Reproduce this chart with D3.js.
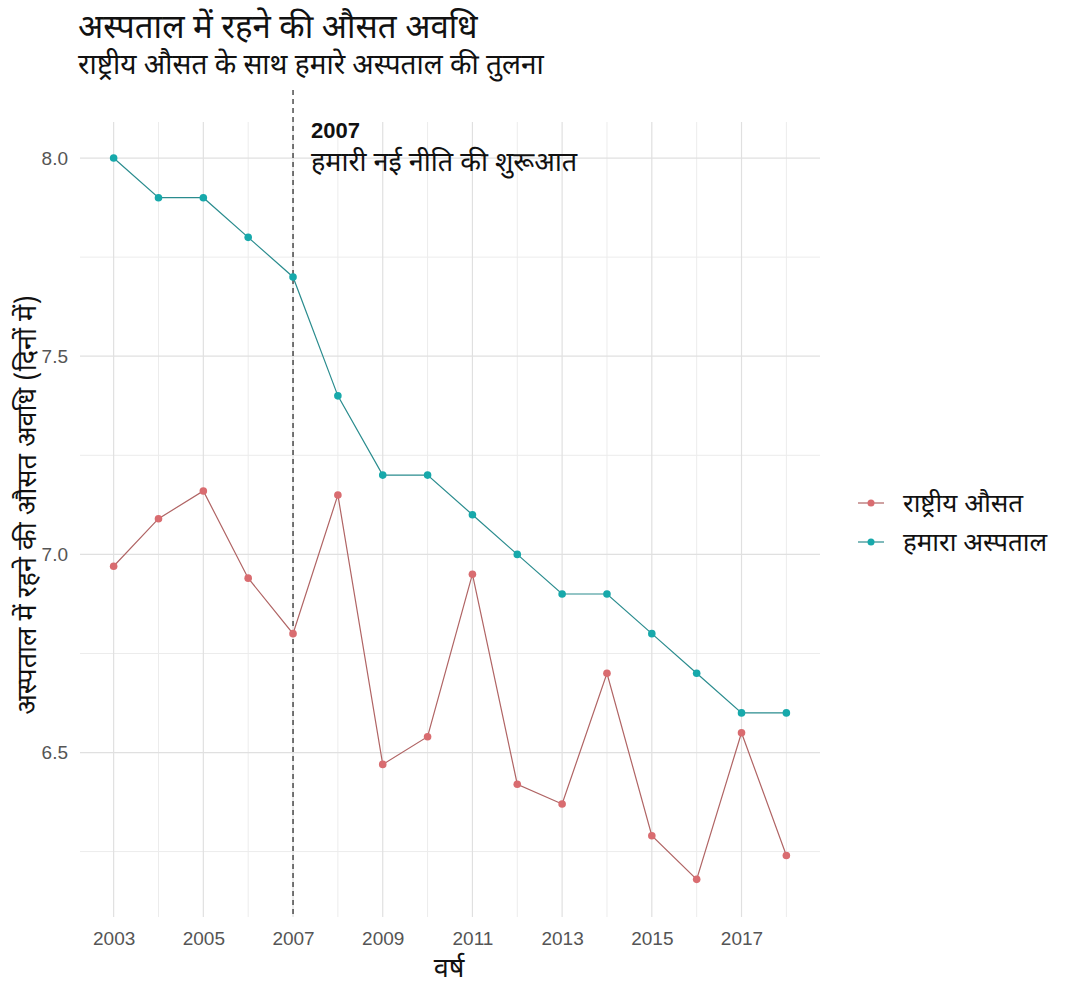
<!DOCTYPE html>
<html>
<head>
<meta charset="utf-8">
<script src="https://cdn.jsdelivr.net/npm/d3@7"></script>
<style>
  body { margin: 0; background: #fff; }
  text { font-family: "Noto Sans Devanagari", "Noto Sans", "DejaVu Sans", sans-serif; }
</style>
</head>
<body>
<div id="chart"></div>
<script>
// years on the x axis
const years = [2003, 2004, 2005, 2006, 2007, 2008, 2009, 2010, 2011, 2012, 2013, 2014, 2015, 2016, 2017, 2018];
// national average (red) and our hospital (teal)
const national = [6.97, 7.09, 7.16, 6.94, 6.80, 7.15, 6.47, 6.54, 6.95, 6.42, 6.37, 6.70, 6.29, 6.18, 6.55, 6.24];
const hospital = [8.0, 7.9, 7.9, 7.8, 7.7, 7.4, 7.2, 7.2, 7.1, 7.0, 6.9, 6.9, 6.8, 6.7, 6.6, 6.6];
const seriesNames = ["राष्ट्रीय औसत", "हमारा अस्पताल"];
const yTicks = [6.5, 7.0, 7.5, 8.0];
const xTicks = [2003, 2005, 2007, 2009, 2011, 2013, 2015, 2017];
const policyYear = 2007;

const W = 1077, H = 992;
const panel = {left: 80, right: 820, top: 122, bottom: 917};

const svg = d3.select("#chart").append("svg")
  .attr("width", W).attr("height", H);

const x = d3.scaleLinear()
  .domain([2002.25, 2018.75])
  .range([panel.left, panel.right]);

const y = d3.scaleLinear()
  .domain([6.085, 8.091])
  .range([panel.bottom, panel.top]);

// grid: minor first, lighter
const minorY = [6.25, 6.75, 7.25, 7.75];
svg.append("g").selectAll("line")
  .data(minorY).enter().append("line")
  .attr("x1", panel.left).attr("x2", panel.right)
  .attr("y1", d => y(d)).attr("y2", d => y(d))
  .attr("stroke", "#ececec").attr("stroke-width", 1);

svg.append("g").selectAll("line")
  .data(years.filter(d => xTicks.indexOf(d) < 0)).enter().append("line")
  .attr("x1", d => x(d)).attr("x2", d => x(d))
  .attr("y1", panel.top).attr("y2", panel.bottom)
  .attr("stroke", "#ececec").attr("stroke-width", 1);

svg.append("g").selectAll("line")
  .data(yTicks).enter().append("line")
  .attr("x1", panel.left).attr("x2", panel.right)
  .attr("y1", d => y(d)).attr("y2", d => y(d))
  .attr("stroke", "#e0e0e0").attr("stroke-width", 1.2);

svg.append("g").selectAll("line")
  .data(xTicks).enter().append("line")
  .attr("x1", d => x(d)).attr("x2", d => x(d))
  .attr("y1", panel.top).attr("y2", panel.bottom)
  .attr("stroke", "#e0e0e0").attr("stroke-width", 1.2);

// axes (text only, ggplot minimal style)
const yAxis = svg.append("g")
  .attr("transform", "translate(" + panel.left + ",0)")
  .call(d3.axisLeft(y).tickValues(yTicks).tickFormat(d3.format(".1f")).tickSize(0).tickPadding(12));
yAxis.select(".domain").remove();
yAxis.selectAll("text").attr("fill", "#555").style("font-size", "19px")
  .style("font-family", "'Liberation Sans', Arial, sans-serif");

const xAxis = svg.append("g")
  .attr("transform", "translate(0," + panel.bottom + ")")
  .call(d3.axisBottom(x).tickValues(xTicks).tickFormat(d3.format("d")).tickSize(0).tickPadding(15));
xAxis.select(".domain").remove();
xAxis.selectAll("text").attr("fill", "#555").style("font-size", "19px")
  .style("font-family", "'Liberation Sans', Arial, sans-serif");

// policy line
svg.append("line")
  .attr("x1", x(policyYear)).attr("x2", x(policyYear))
  .attr("y1", 90).attr("y2", panel.bottom)
  .attr("stroke", "#222").attr("stroke-width", 1.2)
  .attr("stroke-dasharray", "5,4");

svg.append("text")
  .attr("x", x(policyYear) + 18).attr("y", 138)
  .style("font-size", "22px").style("font-weight", "bold")
  .style("font-family", "'Liberation Sans', Arial, sans-serif")
  .attr("fill", "#111")
  .text(policyYear);

svg.append("text")
  .attr("x", x(policyYear) + 18).attr("y", 171)
  .style("font-size", "27px").attr("fill", "#111")
  .text("हमारी नई नीति की शुरूआत");

// series
const series = [
  {name: seriesNames[0], values: national, point: "#d96c70", line: "#b06464"},
  {name: seriesNames[1], values: hospital, point: "#17a9ab", line: "#2a8c8e"}
];

const line = d3.line()
  .x((d, i) => x(years[i]))
  .y(d => y(d));

series.forEach(function(s){
  svg.append("path")
    .datum(s.values)
    .attr("d", line)
    .attr("fill", "none")
    .attr("stroke", s.line)
    .attr("stroke-width", 1.2);

  svg.append("g").selectAll("circle")
    .data(s.values).enter().append("circle")
    .attr("cx", (d, i) => x(years[i]))
    .attr("cy", d => y(d))
    .attr("r", 3.8)
    .attr("fill", s.point);
});

// legend
const legend = svg.append("g").selectAll("g")
  .data(series).enter().append("g")
  .attr("transform", (d, i) => "translate(858," + (503 + i * 39) + ")");

legend.append("line")
  .attr("x1", 0).attr("x2", 26)
  .attr("stroke", d => d.line).attr("stroke-width", 1.2);
legend.append("circle")
  .attr("cx", 13).attr("r", 3.5)
  .attr("fill", d => d.point);
legend.append("text")
  .attr("x", 45).attr("dy", "0.35em")
  .style("font-size", "26px").attr("fill", "#111")
  .text(d => d.name);

// titles
svg.append("text")
  .attr("x", 78).attr("y", 38)
  .style("font-size", "33px").attr("fill", "#111")
  .text("अस्पताल में रहने की औसत अवधि");

svg.append("text")
  .attr("x", 78).attr("y", 74)
  .style("font-size", "28px").attr("fill", "#111")
  .text("राष्ट्रीय औसत के साथ हमारे अस्पताल की तुलना");

svg.append("text")
  .attr("transform", "translate(36,505) rotate(-90)")
  .attr("text-anchor", "middle")
  .style("font-size", "27px").attr("fill", "#111")
  .text("अस्पताल में रहने की औसत अवधि (दिनों में)");

svg.append("text")
  .attr("x", 449).attr("y", 977)
  .attr("text-anchor", "middle")
  .style("font-size", "27px").attr("fill", "#111")
  .text("वर्ष");
</script>
</body>
</html>
